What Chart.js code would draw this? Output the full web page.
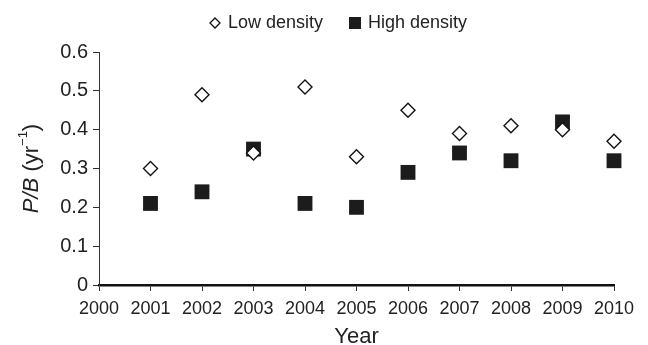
<!DOCTYPE html>
<html>
<head>
<meta charset="utf-8">
<script src="https://cdn.jsdelivr.net/npm/chart.js@4"></script>
<style>
  html, body { margin: 0; padding: 0; background: #fff; }
  #wrap { width: 648px; height: 345px; }
</style>
</head>
<body>
<div id="wrap"><canvas id="pbChart" width="648" height="345"></canvas></div>
<script>
// data
const years       = [2001, 2002, 2003, 2004, 2005, 2006, 2007, 2008, 2009, 2010];
const lowDensity  = [0.30, 0.49, 0.34, 0.51, 0.33, 0.45, 0.39, 0.41, 0.40, 0.37];
const highDensity = [0.21, 0.24, 0.35, 0.21, 0.20, 0.29, 0.34, 0.32, 0.42, 0.32];
const yTicks      = [0, 0.1, 0.2, 0.3, 0.4, 0.5, 0.6];
const xTicks      = [2000, 2001, 2002, 2003, 2004, 2005, 2006, 2007, 2008, 2009, 2010];

const FONT = '"Liberation Sans", Arial, sans-serif';
const INK  = '#222';

// small hollow diamond for the legend (the legend would draw it too big)
const legendDiamond = document.createElement('canvas');
legendDiamond.width = 12;
legendDiamond.height = 12;
(function () {
  const c = legendDiamond.getContext('2d');
  c.strokeStyle = '#111';
  c.lineWidth = 1.3;
  c.beginPath();
  c.moveTo(6, 1); c.lineTo(11, 6); c.lineTo(6, 11); c.lineTo(1, 6);
  c.closePath();
  c.stroke();
})();

// y axis title: italic P/B, superscript -1
const yTitlePlugin = {
  id: 'yTitle',
  afterDraw(chart) {
    const { ctx, chartArea } = chart;
    const parts = [
      { t: 'P/B', f: 'italic 22px ' + FONT, dy: 0 },
      { t: ' (yr', f: '22px ' + FONT, dy: 0 },
      { t: '\u22121', f: '13px ' + FONT, dy: -9 },
      { t: ')', f: '22px ' + FONT, dy: 0 }
    ];
    ctx.save();
    let total = 0;
    parts.forEach(p => { ctx.font = p.f; p.w = ctx.measureText(p.t).width; total += p.w; });
    ctx.translate(32, (chartArea.top + chartArea.bottom) / 2);
    ctx.rotate(-Math.PI / 2);
    ctx.fillStyle = INK;
    let x = -total / 2;
    parts.forEach(p => {
      ctx.font = p.f;
      ctx.fillText(p.t, x, p.dy);
      x += p.w;
    });
    ctx.restore();
  }
};

// nudge the legend to where it sits in the figure
const legendShift = {
  id: 'legendShift',
  afterLayout(chart) {
    const lg = chart.legend;
    const dx = 339 - (lg.left + lg.right) / 2;
    const dy = -10;
    lg.left += dx; lg.right += dx;
    lg.top += dy; lg.bottom += dy;
  }
};

const ctx = document.getElementById('pbChart').getContext('2d');
new Chart(ctx, {
  type: 'scatter',
  data: {
    datasets: [
      {
        label: 'Low density',
        data: years.map((y, i) => ({ x: y, y: lowDensity[i] })),
        pointStyle: 'rectRot',
        pointRadius: 7,
        pointHoverRadius: 7,
        backgroundColor: '#fff',
        borderColor: '#111',
        borderWidth: 1.4,
        clip: false
      },
      {
        label: 'High density',
        data: years.map((y, i) => ({ x: y, y: highDensity[i] })),
        pointStyle: 'rect',
        pointRadius: 10.5,
        pointHoverRadius: 10.5,
        backgroundColor: '#1c1c1c',
        borderColor: '#1c1c1c',
        borderWidth: 0,
        clip: false
      }
    ]
  },
  options: {
    responsive: false,
    animation: false,
    layout: { padding: { left: 0, right: 34, top: -4, bottom: 0 } },
    plugins: {
      legend: {
        position: 'top',
        align: 'center',
        labels: {
          usePointStyle: true,
          boxWidth: 8,
          boxHeight: 12,
          color: INK,
          font: { family: FONT, size: 18 },
          padding: 28,
          generateLabels(chart) {
            const items = Chart.defaults.plugins.legend.labels.generateLabels(chart);
            items[0].pointStyle = legendDiamond;
            return items;
          }
        }
      },
      tooltip: { enabled: false }
    },
    scales: {
      x: {
        type: 'linear',
        min: 2000,
        max: 2010,
        afterBuildTicks: s => { s.ticks = xTicks.map(v => ({ value: v })); },
        afterFit: s => { s.height = 60; },
        ticks: {
          color: INK,
          font: { family: FONT, size: 18 },
          padding: 7,
          maxRotation: 0,
          autoSkip: false,
          callback: v => String(v)
        },
        grid: { display: true, drawOnChartArea: false, drawTicks: true, tickLength: 6, color: '#333', lineWidth: 1 },
        border: { color: '#111', width: 2.5 },
        title: {
          display: true,
          text: 'Year',
          color: INK,
          font: { family: FONT, size: 22 },
          padding: { top: 0, bottom: -5 }
        }
      },
      y: {
        min: 0,
        max: 0.6,
        afterBuildTicks: s => { s.ticks = yTicks.map(v => ({ value: v })); },
        afterFit: s => { s.width = 99; },
        ticks: {
          color: INK,
          font: { family: FONT, size: 20 },
          padding: 5,
          callback: v => String(v)
        },
        grid: { display: true, drawOnChartArea: false, drawTicks: true, tickLength: 6, color: '#333', lineWidth: 1 },
        border: { color: '#333', width: 1 }
      }
    }
  },
  plugins: [yTitlePlugin, legendShift]
});
</script>
</body>
</html>
